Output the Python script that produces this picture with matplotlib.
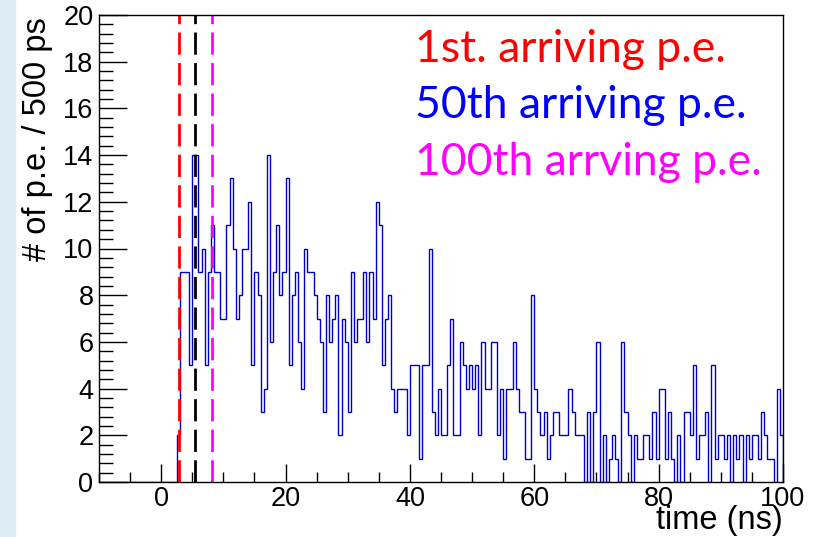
import matplotlib
matplotlib.use("Agg")
import matplotlib.pyplot as plt
import numpy as np
from matplotlib.patches import Rectangle
from matplotlib.ticker import MultipleLocator

# photo-electron arrival times, 0.5 ns bins from -10 to 100 ns
t_lo = -10.0
bin_width = 0.5
counts = [
    0, 0, 0, 0, 0, 0, 0, 0, 0, 0,
    0, 0, 0, 0, 0, 0, 0, 0, 0, 0,
    0, 0, 0, 0, 0, 2, 9, 9, 9, 5,
    14, 14, 9, 10, 5, 9, 11, 9, 9, 7,
    7, 11, 13, 10, 7, 8, 10, 10, 12, 5,
    9, 8, 3, 4, 14, 6, 9, 11, 8, 9,
    13, 5, 8, 9, 6, 4, 10, 9, 9, 8,
    7, 6, 3, 8, 6, 7, 8, 2, 7, 6,
    3, 9, 6, 7, 7, 9, 6, 9, 7, 12,
    11, 5, 7, 8, 4, 3, 4, 4, 4, 2,
    5, 5, 5, 1, 5, 5, 10, 3, 2, 4,
    2, 2, 5, 7, 2, 2, 6, 5, 4, 5,
    4, 5, 2, 6, 4, 4, 6, 6, 2, 4,
    1, 4, 4, 6, 4, 3, 3, 1, 1, 8,
    4, 3, 2, 3, 1, 2, 3, 3, 2, 2,
    2, 4, 3, 2, 2, 2, 0, 3, 0, 3,
    6, 0, 2, 0, 1, 2, 1, 0, 6, 3,
    2, 0, 2, 1, 1, 2, 2, 1, 3, 1,
    4, 4, 1, 3, 1, 0, 2, 0, 3, 3,
    2, 5, 1, 2, 2, 3, 0, 5, 1, 2,
    2, 1, 2, 0, 2, 1, 2, 0, 2, 1,
    2, 2, 1, 3, 2, 1, 1, 0, 4, 2,
]

# arrival time of the 1st, 50th and 100th p.e. (ns)
arrival_times = [2.86, 5.37, 8.15]
arrival_colors = ["#ff0000", "#000000", "#ff00ff"]
arrival_labels = ["1st. arriving p.e.", "50th arriving p.e.", "100th arrving p.e."]
label_colors = ["#ff0000", "#0000ff", "#ff00ff"]

W, H = 817, 537
fig = plt.figure(figsize=(W / 100, H / 100), dpi=100)
fig.patches.append(Rectangle((0, 0), 15 / W, 1, transform=fig.transFigure,
                             color="#deecf6", zorder=0))

ax = fig.add_axes([99 / W, 55 / H, 684 / W, 467 / H])
edges = t_lo + bin_width * np.arange(len(counts) + 1)
ax.stairs(counts, edges, color="#0000c8", lw=1.0)

for t, c in zip(arrival_times, arrival_colors):
    ax.axvline(t, color=c, lw=2.0, dashes=(8, 3))

ax.set_xlim(-10, 100)
ax.set_ylim(0, 20)
ax.xaxis.set_major_locator(MultipleLocator(20))
ax.xaxis.set_minor_locator(MultipleLocator(5))
ax.yaxis.set_major_locator(MultipleLocator(2))
ax.yaxis.set_minor_locator(MultipleLocator(0.4))

tick_font = "Liberation Sans"
ax.tick_params(which="both", direction="in", top=False, right=False, width=1)
ax.tick_params(axis="x", which="major", length=13, pad=3)
ax.tick_params(axis="x", which="minor", length=7)
ax.tick_params(axis="y", which="major", length=20, pad=4)
ax.tick_params(axis="y", which="minor", length=10)
for lab in ax.get_xticklabels() + ax.get_yticklabels():
    lab.set_fontfamily(tick_font)
    lab.set_fontsize(19.5)
for sp in ax.spines.values():
    sp.set_linewidth(1.0)

fig.text(38 / W, 1 - 17 / H, "# of p.e. / 500 ps", rotation=90,
         ha="center", va="top", fontsize=23.5, family=tick_font)
fig.text(783 / W, 1 - 536 / H, "time (ns)", ha="right", va="bottom",
         fontsize=23.5, family=tick_font)

baselines = [62, 118, 175]
for txt, c, yb in zip(arrival_labels, label_colors, baselines):
    fig.text(415 / W, 1 - yb / H, txt, color=c, ha="left", va="baseline",
             fontsize=32, family="Lato")

fig.savefig("out.png", dpi=100)
